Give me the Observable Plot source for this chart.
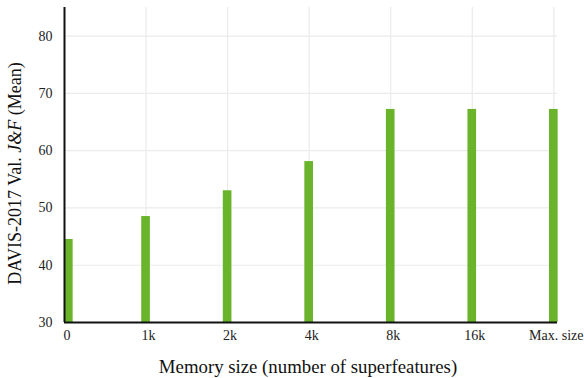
<!DOCTYPE html>
<html>
<head>
<meta charset="utf-8">
<script src="https://cdn.jsdelivr.net/npm/d3@7"></script>
<script src="https://cdn.jsdelivr.net/npm/@observablehq/plot@0.6"></script>
<style>
  html, body { margin: 0; padding: 0; background: #fff; }
  svg { font-family: "Liberation Serif", "Times New Roman", serif; }
</style>
</head>
<body>
<div id="chart"></div>
<script>
const categories = ["0", "1k", "2k", "4k", "8k", "16k", "Max. size"];
const values = [44.5, 48.5, 53.0, 58.1, 67.2, 67.2, 67.2];
const yTicks = [30, 40, 50, 60, 70, 80];

const halfWidth = 0.053;
const data = categories.map((c, i) => ({
  label: c,
  pos: i,
  x1: Math.max(i - halfWidth, 0),
  x2: i === 0 ? 2 * halfWidth : i + halfWidth,
  value: values[i]
}));
const idx = categories.map((_, i) => i);

const chart = Plot.plot({
  width: 584,
  height: 378,
  marginLeft: 64,
  marginRight: 27,
  marginTop: 7,
  marginBottom: 56,
  style: { fontFamily: "'Liberation Serif', 'Times New Roman', serif", background: "#fff" },
  x: { type: "linear", domain: [0, 6.045] },
  y: { domain: [30, 85] },
  marks: [
    Plot.gridX(idx.slice(1), { stroke: "#ebebeb", strokeOpacity: 1, strokeWidth: 1.2 }),
    Plot.gridY(yTicks.slice(1), { stroke: "#ebebeb", strokeOpacity: 1, strokeWidth: 1.2 }),
    Plot.rectY(data, { x1: "x1", x2: "x2", y1: 30, y2: "value", fill: "#6ab42b" }),
    Plot.axisX(idx, {
      tickSize: 0, tickPadding: 8, dx: 2.5, fontSize: 14, fill: "#222",
      fontFamily: "'Liberation Serif', serif",
      tickFormat: (d) => categories[d], label: null
    }),
    Plot.axisY(yTicks, {
      tickSize: 0, tickPadding: 12, fontSize: 14, fill: "#222",
      fontFamily: "'Liberation Serif', serif", label: null
    }),
    Plot.ruleY([30], { stroke: "#111", strokeWidth: 2 }),
    Plot.ruleX([0], { stroke: "#111", strokeWidth: 2 }),
    Plot.text(["Memory size (number of superfeatures)"], {
      frameAnchor: "bottom", dy: 44, dx: -3, fontSize: 18.8, fill: "#111", lineAnchor: "middle",
      fontFamily: "'Liberation Serif', serif"
    })
  ]
});

document.getElementById("chart").appendChild(chart);

// Y axis title with italic J&F
const svg = d3.select(chart);
const t = svg.append("text")
  .attr("transform", "translate(17," + (7 + (322 - 7) / 2 + 9) + ") rotate(-90)")
  .attr("text-anchor", "middle")
  .attr("dominant-baseline", "middle")
  .attr("font-size", 18)
  .attr("font-family", "'Liberation Serif', serif")
  .attr("fill", "#111");
t.append("tspan").text("DAVIS-2017 Val. ");
t.append("tspan").attr("font-style", "italic").text("J&F");
t.append("tspan").text(" (Mean)");
</script>
</body>
</html>
